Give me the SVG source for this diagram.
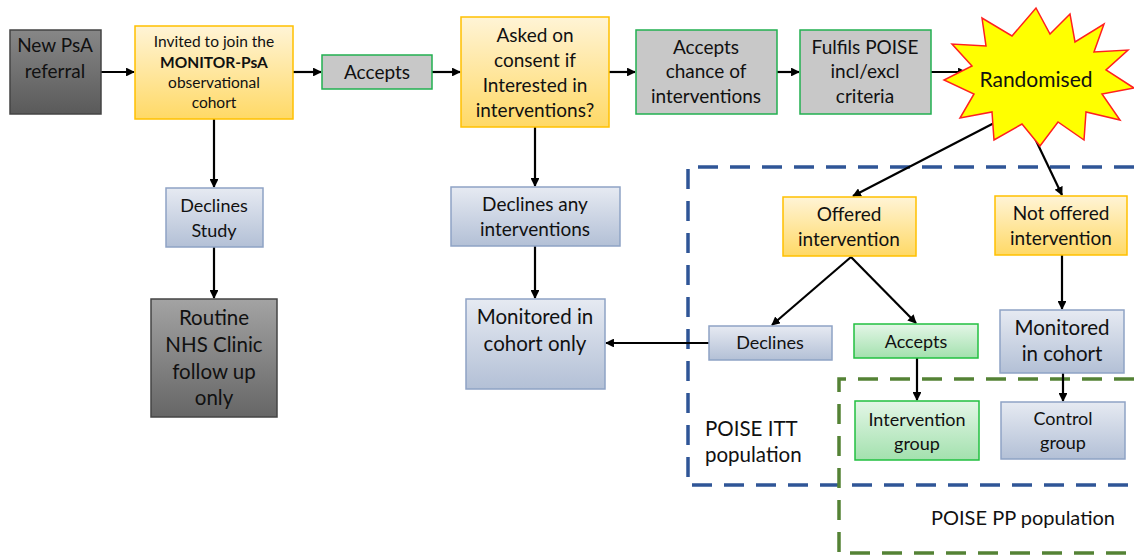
<svg xmlns="http://www.w3.org/2000/svg" width="1134" height="557" viewBox="0 0 1134 557">
<style>
text{font-family:Lato,"Liberation Sans",sans-serif;fill:#111;text-anchor:middle}
.t18{font-size:19px}.t19{font-size:20.5px}.t14{font-size:15.5px}.t17{font-size:18px}
.yel{fill:url(#gY);stroke:#ffc000;stroke-width:1.5}
.blu{fill:url(#gB);stroke:#8ea3c5;stroke-width:1.5}
.grn{fill:url(#gG);stroke:#22c040;stroke-width:1.5}
.gry{fill:#c8c8c8;stroke:#22b050;stroke-width:1.5}
.c{stroke:#000;stroke-width:2.2;fill:none;marker-end:url(#ah)}
</style>
<defs>
<linearGradient id="gY" x1="0" y1="0" x2="0" y2="1"><stop offset="0" stop-color="#fff4d6"/><stop offset="1" stop-color="#ffd966"/></linearGradient>
<linearGradient id="gB" x1="0" y1="0" x2="0" y2="1"><stop offset="0" stop-color="#e6eaf2"/><stop offset="1" stop-color="#b3c0d6"/></linearGradient>
<linearGradient id="gG" x1="0" y1="0" x2="0" y2="1"><stop offset="0" stop-color="#e4f6e7"/><stop offset="1" stop-color="#a3e1ae"/></linearGradient>
<linearGradient id="gD" x1="0" y1="0" x2="0" y2="1"><stop offset="0" stop-color="#878787"/><stop offset="1" stop-color="#5a5a5a"/></linearGradient>
<linearGradient id="gR" x1="0" y1="0" x2="0" y2="1"><stop offset="0" stop-color="#a3a3a3"/><stop offset="1" stop-color="#666"/></linearGradient>
<marker id="ah" viewBox="0 0 10 10" refX="9" refY="5" markerWidth="4" markerHeight="4" orient="auto"><path d="M0,0 L10,5 L0,10 z" fill="#000"/></marker>
</defs>

<g id="itt-region">
<path d="M1134,167 H688 V485 H1134" fill="none" stroke="#2f5597" stroke-width="3.5" stroke-dasharray="20,12"/>
<text x="705" y="436" class="t19" style="text-anchor:start">POISE ITT</text>
<text x="705" y="462" class="t19" style="text-anchor:start">population</text>
</g>
<g id="pp-region">
<path d="M1134,379 H839 V553 H1134" fill="none" stroke="#548235" stroke-width="3.5" stroke-dasharray="20,12"/>
<text x="1023" y="525" style="font-size:20px">POISE PP population</text>
</g>

<g id="connectors">
<path class="c" d="M101,72 H134"/>
<path class="c" d="M293,72 H321"/>
<path class="c" d="M432,72 H460"/>
<path class="c" d="M609,72 H635"/>
<path class="c" d="M777,72 H799"/>
<path class="c" d="M931,72 H966"/>
<path class="c" d="M213,38 V27"/>
<path class="c" d="M214,119 V187"/>
<path class="c" d="M214,247 V298"/>
<path class="c" d="M535,127 V186"/>
<path class="c" d="M535,246 V298"/>
<path class="c" d="M709,343 H606"/>
<path class="c" d="M998,121 L853,196"/>
<path class="c" d="M1030,128 L1062,195"/>
<path class="c" d="M851,257 L772,325"/>
<path class="c" d="M851,257 L916,323"/>
<path class="c" d="M917,358 V400"/>
<path class="c" d="M1062,255 V309"/>
<path class="c" d="M1063,373 V401"/>
</g>

<g id="n-new"><rect x="10" y="30" width="91" height="84" fill="url(#gD)" stroke="#444" stroke-width="1.5"/>
<text x="55" y="52" class="t18">New PsA</text><text x="55" y="78" class="t18">referral</text></g>

<g id="n-invited"><rect x="135" y="26" width="158" height="93" class="yel"/>
<text x="214" y="47" class="t14">Invited to join the</text>
<text x="214" y="68" class="t14" font-weight="bold">MONITOR-PsA</text>
<text x="214" y="88" class="t14">observational</text>
<text x="214" y="108" class="t14">cohort</text></g>

<g id="n-accepts1"><rect x="322" y="55" width="110" height="34" class="gry"/>
<text x="377" y="79" class="t18">Accepts</text></g>

<g id="n-asked"><rect x="461" y="17" width="148" height="110" class="yel"/>
<text x="535" y="42" class="t18">Asked on</text>
<text x="535" y="67" class="t18">consent if</text>
<text x="535" y="92" class="t18">Interested in</text>
<text x="535" y="117" class="t18">interventions?</text></g>

<g id="n-chance"><rect x="636" y="30" width="141" height="84" class="gry"/>
<text x="706" y="54" class="t18">Accepts</text>
<text x="706" y="78" class="t18">chance of</text>
<text x="706" y="103" class="t18">interventions</text></g>

<g id="n-fulfils"><rect x="800" y="30" width="131" height="84" class="gry"/>
<text x="865" y="54" class="t18">Fulfils POISE</text>
<text x="865" y="78" class="t18">incl/excl</text>
<text x="865" y="103" class="t18">criteria</text></g>

<g id="n-random">
<polygon points="1036,8 1050,34 1070,14 1075,42 1104,24 1094,52 1128,50 1106,70 1134,88 1102,94 1120,120 1086,112 1084,140 1058,122 1040,146 1022,124 994,140 992,112 960,118 974,94 944,80 972,66 952,44 986,46 982,18 1012,36" fill="#ffff00" stroke="#ff2020" stroke-width="1.5"/>
<text x="1036" y="87" style="font-size:21px">Randomised</text></g>

<g id="n-declstudy"><rect x="166" y="188" width="97" height="59" class="blu"/>
<text x="214" y="212" class="t17">Declines</text><text x="214" y="237" class="t17">Study</text></g>

<g id="n-routine"><rect x="151" y="299" width="126" height="118" fill="url(#gR)" stroke="#444" stroke-width="1.5"/>
<text x="214" y="325" class="t19">Routine</text>
<text x="214" y="352" class="t19">NHS Clinic</text>
<text x="214" y="379" class="t19">follow up</text>
<text x="214" y="405" class="t19">only</text></g>

<g id="n-declany"><rect x="451" y="187" width="169" height="59" class="blu"/>
<text x="535" y="211" class="t18">Declines any</text><text x="535" y="236" class="t18">interventions</text></g>

<g id="n-moncohortonly"><rect x="466" y="299" width="139" height="90" class="blu"/>
<text x="535" y="324" class="t19">Monitored in</text><text x="535" y="351" class="t19">cohort only</text></g>

<g id="n-offered"><rect x="783" y="197" width="133" height="59" class="yel"/>
<text x="849" y="221" class="t18">Offered</text><text x="849" y="246" class="t18">intervention</text></g>

<g id="n-notoffered"><rect x="995" y="196" width="132" height="59" class="yel"/>
<text x="1061" y="220" class="t18">Not offered</text><text x="1061" y="245" class="t18">intervention</text></g>

<g id="n-declines"><rect x="709" y="326" width="123" height="34" class="blu"/>
<text x="770" y="349" class="t17">Declines</text></g>

<g id="n-accepts2"><rect x="854" y="324" width="124" height="34" class="grn"/>
<text x="916" y="348" class="t17">Accepts</text></g>

<g id="n-moncohort"><rect x="1000" y="310" width="124" height="63" class="blu"/>
<text x="1062" y="335" class="t19">Monitored</text><text x="1062" y="361" class="t19">in cohort</text></g>

<g id="n-intgroup"><rect x="855" y="401" width="124" height="59" class="grn"/>
<text x="917" y="426" class="t17">Intervention</text><text x="917" y="450" class="t17">group</text></g>

<g id="n-ctrlgroup"><rect x="1001" y="402" width="124" height="57" class="blu"/>
<text x="1063" y="425" class="t17">Control</text><text x="1063" y="449" class="t17">group</text></g>
</svg>
